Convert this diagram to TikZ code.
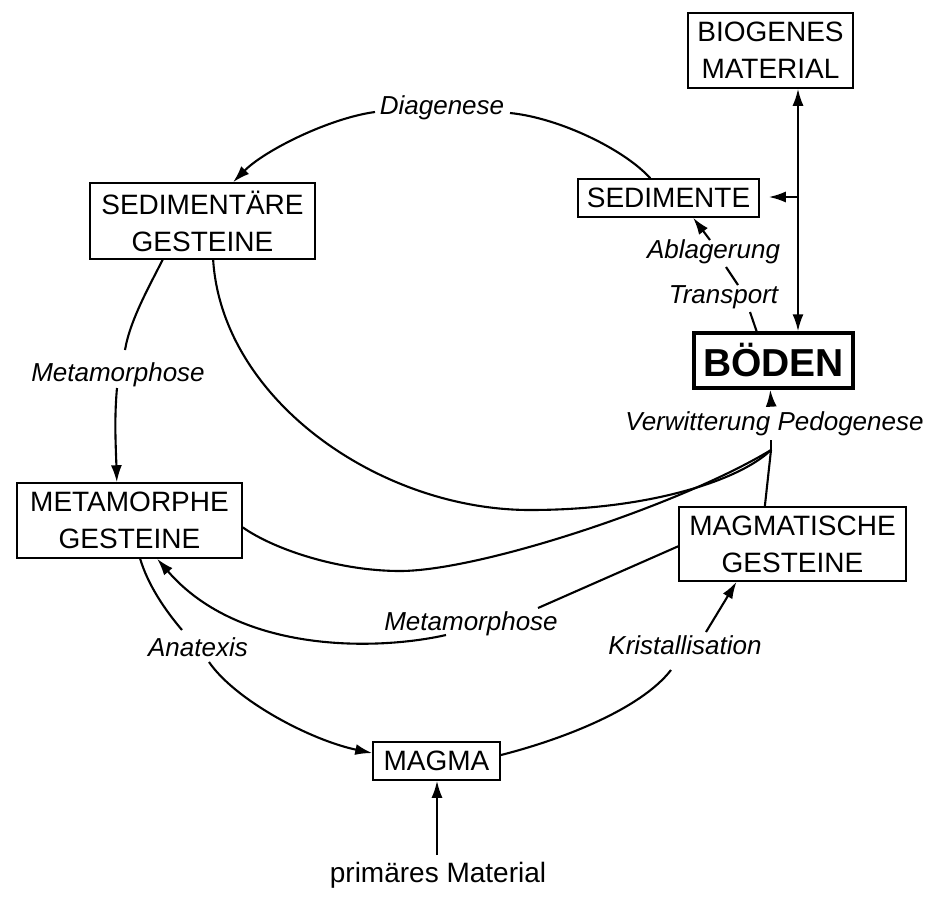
\documentclass[tikz,border=0pt]{standalone}
\usepackage{fontspec}
\setmainfont{Liberation Sans}
\usetikzlibrary{arrows.meta,calc}
\tikzset{
  box/.style={draw, line width=1.5pt, inner sep=0pt, align=center, font=\fontsize{28}{37}\selectfont},
  bigbox/.style={draw, line width=3.4pt, inner sep=0pt, align=center, font=\fontsize{39}{44}\selectfont\bfseries},
  lab/.style={anchor=base, inner sep=0pt, font=\fontsize{26}{30}\selectfont\itshape},
  plainlab/.style={anchor=base, inner sep=0pt, font=\fontsize{28}{32}\selectfont},
  conn/.style={line width=2.1pt},
  arr/.style={-{Latex[length=17pt,width=11pt]}},
  arrboth/.style={{Latex[length=17pt,width=11pt]}-{Latex[length=17pt,width=11pt]}}
}
\begin{document}
\begin{tikzpicture}[x=1pt,y=-1pt]
\useasboundingbox (0,0) rectangle (937,900);
% boxes
\node[box, minimum width=225pt, minimum height=76pt] (sedg) at (202.5,221) {SEDIMENTÄRE\\GESTEINE};
\node[box, minimum width=225pt, minimum height=75pt] (metg) at (129.5,520.5) {METAMORPHE\\GESTEINE};
\node[box, minimum width=227pt, minimum height=74pt] (magg) at (792.5,544) {MAGMATISCHE\\GESTEINE};
\node[box, minimum width=127pt, minimum height=38pt] (magma) at (436.5,761) {MAGMA};
\node[box, minimum width=181pt, minimum height=38pt] (sed) at (668.5,198) {SEDIMENTE};
\node[box, minimum width=165pt, minimum height=75pt] (bio) at (770.5,50.5) {BIOGENES\\MATERIAL};
\node[bigbox, minimum width=159pt, minimum height=55pt] (boden) at (773.5,360.5) {BÖDEN};
% labels
\node[lab] (diag) at (442,114) {Diagenese};
\node[lab] (meta1) at (118,381) {Metamorphose};
\node[lab] (anat) at (198,656) {Anatexis};
\node[lab] (meta2) at (471,630) {Metamorphose};
\node[lab] (krist) at (685,654) {Kristallisation};
\node[lab] (ablag) at (713.5,258) {Ablagerung};
\node[lab] (transp) at (723.5,303) {Transport};
\node[lab] (verw) at (774.5,430) {Verwitterung Pedogenese};
\node[plainlab] (prim) at (438,882) {primäres Material};
% break points
\coordinate (d1) at (510,113);
\coordinate (d2) at (375,112);
\coordinate (m1a) at (125,350);
\coordinate (m1b) at (117,388);
\coordinate (a1) at (182,630);
\coordinate (a2) at (209,662);
\coordinate (k1) at (671,670);
\coordinate (k2) at (706,632);
\coordinate (mm1) at (538,608);
\coordinate (mm2) at (446,635);
\coordinate (t1) at (750,312);
\coordinate (t2) at (738,285);
\coordinate (t3) at (726,267);
\coordinate (t4) at (710,240);
\coordinate (v1) at (771,440);
\coordinate (v2) at (771,403);
\coordinate (J) at (771,450);
\coordinate (bs1) at (530,510);
\coordinate (bs2) at (400,571);
\coordinate (p1) at (437,855);
\coordinate (br) at (798,197);
% connectors
\draw[conn] ($(sed.north west)!0.4!(sed.north east)$) .. controls (625,150) and (560,118) .. (d1);
\draw[conn,arr] (d2) .. controls (330,118) and (265,150) .. ($(sedg.north west)!0.635!(sedg.north east)$);
\draw[conn] ($(sedg.south west)!0.324!(sedg.south east)$) .. controls (150,285) and (130,320) .. (m1a);
\draw[conn,arr] (m1b) .. controls (114,420) and (116,450) .. ($(metg.north west)!0.444!(metg.north east)$);
\draw[conn] ($(metg.south west)!0.547!(metg.south east)$) .. controls (148,585) and (165,610) .. (a1);
\draw[conn,arr] (a2) .. controls (235,700) and (310,740) .. ($(magma.north west)!0.3!(magma.south west)$);
\draw[conn] ($(magma.north east)!0.35!(magma.south east)$) .. controls (560,740) and (640,710) .. (k1);
\draw[conn,arr] (k2) -- ($(magg.south west)!0.255!(magg.south east)$);
\draw[conn] ($(magg.north west)!0.53!(magg.south west)$) -- (mm1);
\draw[conn,arr] (mm2) .. controls (380,650) and (240,655) .. ($(metg.south west)!0.622!(metg.south east)$);
\draw[conn] ($(sedg.south west)!0.547!(sedg.south east)$) .. controls (222,400) and (380,510) .. (bs1) .. controls (650,510) and (740,480) .. (J);
\draw[conn] ($(metg.north east)!0.59!(metg.south east)$) .. controls (275,550) and (340,571) .. (bs2) .. controls (480,571) and (680,505) .. (J);
\draw[conn] ($(magg.north west)!0.379!(magg.north east)$) -- (J);
\draw[conn] (J) -- (v1);
\draw[conn,arr] (v2) -- ($(boden.south west)!0.48!(boden.south east)$);
\draw[conn] ($(boden.north west)!0.396!(boden.north east)$) -- (t1);
\draw[conn] (t2) -- (t3);
\draw[conn,arr] (t4) -- ($(sed.south west)!0.635!(sed.south east)$);
\draw[conn,arrboth] (br |- bio.south) -- (br |- boden.north);
\draw[conn,arr,shorten >=9pt] (br) -- (br -| sed.east);
\draw[conn,arr] (p1) -- (p1 |- magma.south);
\end{tikzpicture}
\end{document}
